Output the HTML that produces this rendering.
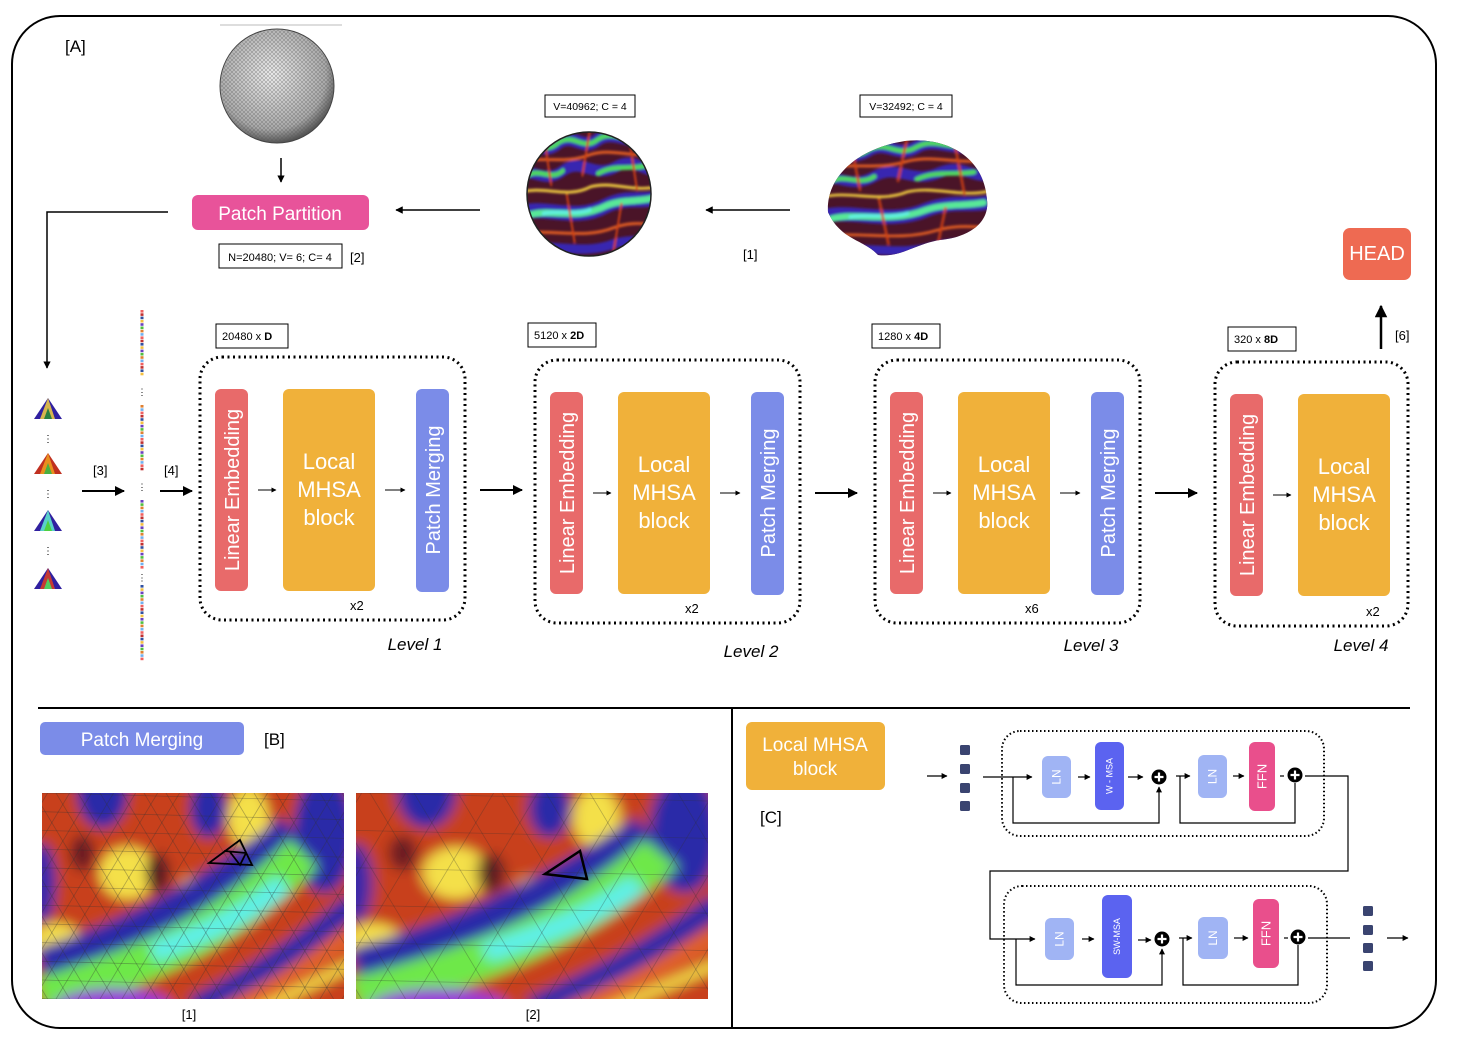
<!DOCTYPE html>
<html><head><meta charset="utf-8"><style>
html,body{margin:0;padding:0;background:#fff}
svg{display:block;font-family:"Liberation Sans",sans-serif}
</style></head><body>
<svg id="fig" width="1458" height="1044" viewBox="0 0 1458 1044" xmlns="http://www.w3.org/2000/svg">
<defs>
<marker id="ah" viewBox="0 0 10 10" refX="9" refY="5" markerWidth="5" markerHeight="5" orient="auto"><path d="M0,0L10,5L0,10z" fill="#000"/></marker>
<filter id="blur6"><feGaussianBlur stdDeviation="6"/></filter>
<filter id="blur2"><feGaussianBlur stdDeviation="1.4"/></filter>
<radialGradient id="meshg" cx="0.45" cy="0.4" r="0.6"><stop offset="0" stop-color="#e8e8e8"/><stop offset="0.8" stop-color="#a8a8a8"/><stop offset="1" stop-color="#555"/></radialGradient>
<pattern id="dots" width="4" height="4" patternUnits="userSpaceOnUse"><path d="M0,0L4,4M4,0L0,4" stroke="#555" stroke-width="0.5"/></pattern>
<clipPath id="cl1"><rect x="42" y="793" width="302" height="206"/></clipPath>
<clipPath id="cl2"><rect x="356" y="793" width="352" height="206"/></clipPath>
<clipPath id="sph"><circle cx="589" cy="194" r="62"/></clipPath>
<clipPath id="brn"><path d="M828,212 C826,175 860,148 905,141 C950,136 985,160 987,200 C990,225 965,238 940,240 C915,244 900,258 878,255 C865,240 840,240 828,212Z"/></clipPath>
<g id="tex" filter="url(#blur6)">
<rect x="-20" y="-20" width="340" height="250" fill="#c8401e"/>
<ellipse cx="85" cy="80" rx="28" ry="26" fill="#f4e04a"/>
<ellipse cx="205" cy="25" rx="20" ry="30" fill="#f4e04a"/>
<ellipse cx="15" cy="150" rx="25" ry="20" fill="#f4e04a"/>
<ellipse cx="150" cy="95" rx="15" ry="12" fill="#f0c040"/>
<ellipse cx="60" cy="0" rx="25" ry="35" fill="#2a2aa8"/>
<ellipse cx="165" cy="15" rx="18" ry="30" fill="#2a2aa8"/>
<ellipse cx="280" cy="40" rx="30" ry="60" fill="#2a2aa8"/>
<ellipse cx="0" cy="90" rx="14" ry="40" fill="#3a2aa8"/>
<ellipse cx="115" cy="80" rx="12" ry="20" fill="#5a1a20"/>
<ellipse cx="40" cy="60" rx="12" ry="18" fill="#6a1a20"/>
<path d="M0,175 C80,150 160,110 250,40" stroke="#2a2aa8" stroke-width="40" fill="none"/>
<path d="M0,205 C90,175 170,150 260,60" stroke="#6ee84a" stroke-width="40" fill="none"/>
<path d="M110,160 C160,140 200,125 240,90" stroke="#5ff0e8" stroke-width="20" fill="none"/>
<ellipse cx="70" cy="215" rx="60" ry="20" fill="#9a3ad8"/>
<path d="M150,215 C200,190 250,160 310,110" stroke="#2a2aa8" stroke-width="22" fill="none"/>
<path d="M180,220 C230,195 270,170 310,140" stroke="#e0602a" stroke-width="18" fill="none"/>
<path d="M200,225 C240,205 280,185 310,170" stroke="#f4e04a" stroke-width="10" fill="none"/>
</g>
<g id="brtex">
<rect x="-10" y="-10" width="200" height="160" fill="#4a1428"/>
<g filter="url(#blur2)" fill="none" stroke-linecap="round">
<path d="M0,20 C20,10 30,30 50,15 C70,5 80,25 100,12 C120,0 140,20 170,8" stroke="#3828b0" stroke-width="14"/>
<path d="M0,20 C20,10 30,30 50,15 C70,5 80,25 100,12 C120,0 140,20 170,8" stroke="#50d860" stroke-width="5"/>
<path d="M0,50 C15,40 30,60 55,45 C80,30 95,55 125,40 C150,30 160,50 180,42" stroke="#3828b0" stroke-width="12"/>
<path d="M10,50 C25,42 40,56 55,45 M100,48 C120,38 140,44 160,40" stroke="#50d860" stroke-width="5"/>
<path d="M0,35 C30,30 60,38 90,28 C120,20 150,34 180,25" stroke="#e86020" stroke-width="3"/>
<path d="M0,68 C30,60 60,75 90,62 C120,55 150,70 180,60" stroke="#f4d040" stroke-width="3"/>
<path d="M0,90 C30,80 70,100 110,82 C140,70 160,80 180,72" stroke="#3828b0" stroke-width="16"/>
<path d="M10,92 C40,84 70,98 110,82 C130,75 150,78 170,74" stroke="#58e898" stroke-width="7"/>
<path d="M30,90 C50,86 70,92 90,86" stroke="#60f0e0" stroke-width="4"/>
<path d="M0,112 C40,105 80,118 120,105 C150,96 170,104 180,100" stroke="#e86020" stroke-width="3"/>
<path d="M0,128 C40,120 80,135 120,122 C150,115 170,122 180,118" stroke="#3828b0" stroke-width="10"/>
<path d="M30,5 L40,60 M90,0 L80,50 M140,10 L150,65 M60,70 L70,120 M130,80 L120,130" stroke="#d04018" stroke-width="2.5"/>
</g>
</g>
</defs>

<rect x="12" y="16" width="1424" height="1012" rx="48" fill="none" stroke="#000" stroke-width="2"/>
<text x="65" y="52" font-size="17">[A]</text>

<line x1="220" y1="25" x2="342" y2="25" stroke="#bbb"/>
<circle cx="277" cy="86" r="57" fill="url(#meshg)" stroke="#444" stroke-width="1"/>
<circle cx="277" cy="86" r="56" fill="url(#dots)" opacity="0.6"/>
<line x1="281" y1="158" x2="281" y2="182" stroke="#000" stroke-width="1.5" marker-end="url(#ah)"/>
<rect x="192" y="195" width="177" height="35" rx="6" fill="#e8539a"/>
<text x="280" y="220" font-size="19" fill="#fff" text-anchor="middle">Patch Partition</text>
<rect x="219" y="244" width="123" height="24" fill="#fff" stroke="#000"/>
<text x="280" y="261" font-size="11" text-anchor="middle">N=20480; V= 6; C= 4</text>
<text x="350" y="262" font-size="13">[2]</text>
<polyline points="168,212 47,212 47,368" fill="none" stroke="#000" stroke-width="1.5" marker-end="url(#ah)"/>

<line x1="480" y1="210" x2="396" y2="210" stroke="#000" stroke-width="1.5" marker-end="url(#ah)"/>
<rect x="545" y="95" width="90" height="22" fill="#fff" stroke="#000"/>
<text x="590" y="110" font-size="10.5" text-anchor="middle">V=40962; C = 4</text>
<g clip-path="url(#sph)">
<use href="#brtex" transform="translate(520,128) scale(0.78,0.95)"/>
</g>
<circle cx="589" cy="194" r="62" fill="none" stroke="#222" stroke-width="1.5"/>
<line x1="790" y1="210" x2="706" y2="210" stroke="#000" stroke-width="1.5" marker-end="url(#ah)"/>
<text x="743" y="259" font-size="13">[1]</text>
<rect x="860" y="95" width="92" height="22" fill="#fff" stroke="#000"/>
<text x="906" y="110" font-size="10.5" text-anchor="middle">V=32492; C = 4</text>
<g clip-path="url(#brn)">
<use href="#brtex" transform="translate(822,136) scale(0.95,0.9)"/>
</g>

<rect x="1343" y="228" width="68" height="52" rx="7" fill="#ee6a52"/>
<text x="1377" y="260" font-size="20" fill="#fff" text-anchor="middle">HEAD</text>
<line x1="1381" y1="349" x2="1381" y2="306" stroke="#000" stroke-width="2.5" marker-end="url(#ah)"/>
<text x="1395" y="340" font-size="13">[6]</text>

<g id="left-col"></g>
<line x1="82" y1="491" x2="124" y2="491" stroke="#000" stroke-width="2" marker-end="url(#ah)"/>
<text x="93" y="475" font-size="13">[3]</text>
<line x1="160" y1="491" x2="192" y2="491" stroke="#000" stroke-width="2" marker-end="url(#ah)"/>
<text x="164" y="475" font-size="13">[4]</text>

<g id="levels"></g>

<line x1="38" y1="708" x2="1410" y2="708" stroke="#000" stroke-width="2"/>
<line x1="732" y1="708" x2="732" y2="1028" stroke="#000" stroke-width="2"/>

<rect x="40" y="722" width="204" height="33" rx="5" fill="#7b8ce8"/>
<text x="142" y="746" font-size="19" fill="#fff" text-anchor="middle">Patch Merging</text>
<text x="264" y="745" font-size="17">[B]</text>
<g clip-path="url(#cl1)">
<use href="#tex" transform="translate(42,793) scale(1.007,1)"/>
<g stroke="#333" stroke-opacity="0.35" stroke-width="0.8" fill="none" id="mesh1"></g>
</g>
<path d="M240,840 L252,865 L209,863 Z M224,851 L246,853 M230,852 L240,865 L246,853" fill="none" stroke="#000" stroke-width="1.8"/>
<g clip-path="url(#cl2)">
<use href="#tex" transform="translate(356,793) scale(1.173,1)"/>
<g stroke="#333" stroke-opacity="0.3" stroke-width="0.8" fill="none" id="mesh2"></g>
</g>
<path d="M580,851 L587,879 L545,874 Z" fill="none" stroke="#000" stroke-width="2.5"/>
<text x="189" y="1019" font-size="13" text-anchor="middle">[1]</text>
<text x="533" y="1019" font-size="13" text-anchor="middle">[2]</text>

<rect x="746" y="722" width="139" height="68" rx="6" fill="#f0b13a"/>
<text x="815" y="751" font-size="19" fill="#fff" text-anchor="middle">Local MHSA</text>
<text x="815" y="775" font-size="19" fill="#fff" text-anchor="middle">block</text>
<text x="760" y="823" font-size="17">[C]</text>
<g id="cblock"></g>
</svg>
<script>
const levelNames = ['Level 1','Level 2','Level 3','Level 4'];
const levelDims = ['20480 x ','5120 x ','1280 x ','320 x '];
const levelDimBold = ['D','2D','4D','8D'];
const levelRepeats = ['x2','x2','x6','x2'];
const boxes = [[200,357,265,263,216,324,72],[535,360,265,263,528,323,68],[875,360,265,263,872,324,68],[1215,362,193,264,1228,327,68]];
const namePos = [[415,650],[751,657],[1091,651],[1361,651]];
let h = '';
boxes.forEach((b,i)=>{
  const [x,y,w,hh,dx,dy,dw] = b;
  const ry = y+32, rh = 202;
  h += `<g>`;
  h += `<rect x="${dx}" y="${dy}" width="${dw}" height="24" fill="#fff" stroke="#000"/>`;
  h += `<text x="${dx+6}" y="${dy+16}" font-size="11">${levelDims[i]}<tspan font-weight="bold">${levelDimBold[i]}</tspan></text>`;
  h += `<rect x="${x}" y="${y}" width="${w}" height="${hh}" rx="22" fill="none" stroke="#000" stroke-width="3" stroke-dasharray="2 3.5"/>`;
  h += `<rect x="${x+15}" y="${ry}" width="33" height="${rh}" rx="6" fill="#e86a6a"/>`;
  h += `<text transform="translate(${x+39},${ry+rh/2}) rotate(-90)" font-size="20" fill="#fff" text-anchor="middle">Linear Embedding</text>`;
  h += `<line x1="${x+58}" y1="${ry+rh/2}" x2="${x+76}" y2="${ry+rh/2}" stroke="#000" marker-end="url(#ah)"/>`;
  h += `<rect x="${x+83}" y="${ry}" width="92" height="${rh}" rx="6" fill="#f0b13a"/>`;
  ['Local','MHSA','block'].forEach((t,k)=>{ h += `<text x="${x+129}" y="${ry+80+k*28}" font-size="22" fill="#fff" text-anchor="middle">${t}</text>`; });
  if (i<3){
    h += `<line x1="${x+185}" y1="${ry+rh/2}" x2="${x+205}" y2="${ry+rh/2}" stroke="#000" marker-end="url(#ah)"/>`;
    h += `<rect x="${x+216}" y="${ry}" width="33" height="${rh+1}" rx="6" fill="#7b8ce8"/>`;
    h += `<text transform="translate(${x+240},${ry+rh/2}) rotate(-90)" font-size="20" fill="#fff" text-anchor="middle">Patch Merging</text>`;
    h += `<line x1="${x+w+15}" y1="${ry+rh/2}" x2="${x+w+57}" y2="${ry+rh/2}" stroke="#000" stroke-width="2" marker-end="url(#ah)"/>`;
  }
  h += `<text x="${x+w-( i<3?115:42)}" y="${y+hh-10}" font-size="13">${levelRepeats[i]}</text>`;
  h += `<text x="${namePos[i][0]}" y="${namePos[i][1]}" font-size="17" font-style="italic" text-anchor="middle">${levelNames[i]}</text>`;
  h += `</g>`;
});
document.getElementById('levels').innerHTML = h;

const triY = [410,465,522,580];
const triCols = [['#f4d040','#3020a0','#2a8040'],['#f0a020','#c03020','#4ab040'],['#60f0d0','#3020a0','#50d040'],['#e04020','#3020a0','#50d060']];
let lc = '';
triY.forEach((ty,i)=>{
  const c = triCols[i];
  lc += `<g><path d="M48,${ty-12} L62,${ty+9} L34,${ty+9}Z" fill="${c[1]}"/><path d="M48,${ty-12} L55,${ty+9} L40,${ty+9}Z" fill="${c[0]}" opacity="0.85"/><path d="M48,${ty-2} L52,${ty+9} L44,${ty+9}Z" fill="${c[2]}"/></g>`;
  if(i<3) lc += `<text x="48" y="${ty+32}" font-size="10" text-anchor="middle">⋮</text>`;
});
const strips = [[310,375],[405,470],[500,566],[585,659]];
const stripCols = ['#f06060','#f4c040','#e08030','#c03030','#6a40c0','#70b0f0','#3050a0','#50c040'];
strips.forEach((s,i)=>{
  for(let yy=s[0], k=0; yy<s[1]; yy+=3.3, k++){
    lc += `<rect x="140.5" y="${yy}" width="3" height="2.6" fill="${stripCols[(k*3+i*2)%stripCols.length]}"/>`;
  }
  if(i<3) lc += `<text x="142" y="${(s[1]+strips[i+1][0])/2+5}" font-size="9" text-anchor="middle">⋮</text>`;
});
document.getElementById('left-col').innerHTML = lc;

function mesh(id,x0,y0,w,hgt,step){
  let m='';
  for(let yy=y0; yy<=y0+hgt; yy+=step*0.85){ m+=`<path d="M${x0},${yy} L${x0+w},${yy+8}"/>`; }
  for(let xx=x0-hgt; xx<=x0+w; xx+=step){ m+=`<path d="M${xx},${y0+hgt} L${xx+hgt*0.6},${y0}"/><path d="M${xx+hgt*0.6},${y0+hgt} L${xx},${y0}"/>`; }
  document.getElementById(id).innerHTML=m;
}
mesh('mesh1',42,793,302,206,22);
mesh('mesh2',356,793,352,206,44);

let c = '';
function sq(x,ys,name){ ys.forEach((y,k)=>{ c+=`<rect x="${x}" y="${y}" width="10" height="10" rx="1.5" fill="#3a4470"/>`; }); }
function plus(x,y,name){ c+=`<g><circle cx="${x}" cy="${y}" r="7.5" fill="#000"/><path d="M${x-4.5},${y}H${x+4.5}M${x},${y-4.5}V${y+4.5}" stroke="#fff" stroke-width="2.2"/></g>`; }
function box(x,y,w,hh,fill,label,name,fs){ c+=`<rect x="${x}" y="${y}" width="${w}" height="${hh}" rx="6" fill="${fill}"/><text transform="translate(${x+w/2+fs*0.35},${y+hh/2}) rotate(-90)" font-size="${fs}" fill="#fff" text-anchor="middle">${label}</text>`; }
function ln(pts,arrow){ c+=`<polyline points="${pts}" fill="none" stroke="#000" stroke-width="1.2" ${arrow?'marker-end="url(#ah)"':''}/>`; }
sq(960,[745,764,783,801],'input-token');
ln('927,776 947,776',1);
c+=`<rect x="1002" y="731" width="322" height="105" rx="18" fill="none" stroke="#000" stroke-width="2" stroke-dasharray="1.5 2.5"/>`;
ln('983,777 1032,777',1);
box(1042,756,29,42,'#a0b4f4','LN','ln-1',12);
ln('1078,777 1090,777',1);
box(1095,742,29,68,'#5b63f0','W - MSA','w-msa',9);
ln('1128,777 1143,777',1);
plus(1159,777,'residual-add-1');
ln('1013,777 1013,823 1159,823 1159,787',1);
ln('1176,776 1190,776',1);
box(1198,755,29,43,'#a0b4f4','LN','ln-2',12);
ln('1233,776 1244,776',1);
box(1249,742,26,69,'#e94f8c','FFN','ffn-1',13);
ln('1280,776 1284,776',0);
plus(1295,775,'residual-add-2');
ln('1180,776 1180,823 1295,823 1295,783',0);
ln('1305,776 1348,776 1348,871 990,871 990,939 1035,939',1);
c+=`<rect x="1004" y="886" width="323" height="117" rx="18" fill="none" stroke="#000" stroke-width="2" stroke-dasharray="1.5 2.5"/>`;
box(1045,918,29,42,'#a0b4f4','LN','ln-3',12);
ln('1082,939 1094,939',1);
box(1102,895,30,83,'#5b63f0','SW-MSA','sw-msa',9);
ln('1138,940 1151,940',1);
plus(1162,939,'residual-add-3');
ln('1016,939 1016,985 1162,985 1162,949',1);
ln('1179,938 1192,938',1);
box(1198,917,30,42,'#a0b4f4','LN','ln-4',12);
ln('1234,938 1248,938',1);
box(1253,899,26,69,'#e94f8c','FFN','ffn-2',13);
ln('1284,938 1288,938',0);
plus(1298,937,'residual-add-4');
ln('1183,938 1183,985 1298,985 1298,945',0);
ln('1308,938 1350,938',0);
sq(1363,[906,925,943,961],'output-token');
ln('1387,938 1408,938',1);
document.getElementById('cblock').innerHTML = c;
</script>
</body></html>
